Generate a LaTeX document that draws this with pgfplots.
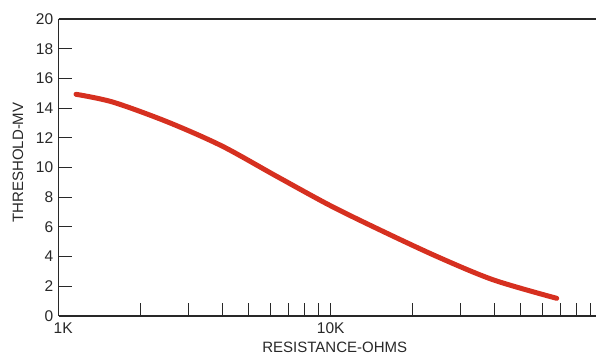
\documentclass[border=0pt]{standalone}
\usepackage{pgfplots}
\pgfplotsset{compat=1.18}
\usepackage{fontspec}
\setmainfont{Liberation Sans}
\definecolor{curvered}{RGB}{214,48,32}
\definecolor{ink}{RGB}{40,40,40}
\begin{document}
\begin{tikzpicture}
\begin{axis}[
  name=ax,
  scale only axis,
  width=537.3pt, height=297pt,
  xmode=log,
  xmin=1000, xmax=94500,
  ymin=0, ymax=20,
  axis x line*=bottom,
  axis y line*=left,
  axis line style={-, line width=1.3pt, ink},
  xtick={1000,10000},
  xticklabels={\hspace*{9pt}1K,10K},
  minor xtick={2000,3000,4000,5000,6000,7000,8000,9000,20000,30000,40000,50000,60000,70000,80000,90000},
  ytick={0,2,...,20},
  tick align=inside,
  major tick length=13pt,
  minor tick length=13pt,
  every tick/.style={line width=1.1pt, ink},
  every minor tick/.style={line width=1.1pt, ink},
  /pgf/number format/assume math mode=true,
  tick label style={font=\fontsize{15.5}{15.5}\selectfont, text=ink},
  yticklabel style={xshift=-2pt},
  xticklabel style={yshift=-3pt},
  xlabel={RESISTANCE-OHMS},
  ylabel={THRESHOLD-MV},
  every axis x label/.style={at={(axis description cs:0,0)}, xshift=276pt, yshift=-31pt, anchor=center, font=\fontsize{15}{15}\selectfont, text=ink},
  every axis y label/.style={at={(axis description cs:0,0.5)}, xshift=-40.7pt, yshift=5pt, rotate=90, anchor=center, font=\fontsize{15}{15}\selectfont, text=ink},
  clip=false,
]
\addplot[curvered, line width=5pt, line cap=round, smooth] coordinates {
  (1158,14.93) (1585,14.40) (2512,13.07) (3981,11.45) (6310,9.42)
  (10000,7.42) (15849,5.63) (25119,3.93) (39811,2.42) (67764,1.19)
};
\draw[line width=1.3pt, ink] (rel axis cs:0,1) -- (rel axis cs:1,1);
\end{axis}
\pgfresetboundingbox
\path[use as bounding box] (ax.south west) ++(-58.7pt,-40pt) rectangle ++(596pt,356pt);
\end{tikzpicture}
\end{document}
